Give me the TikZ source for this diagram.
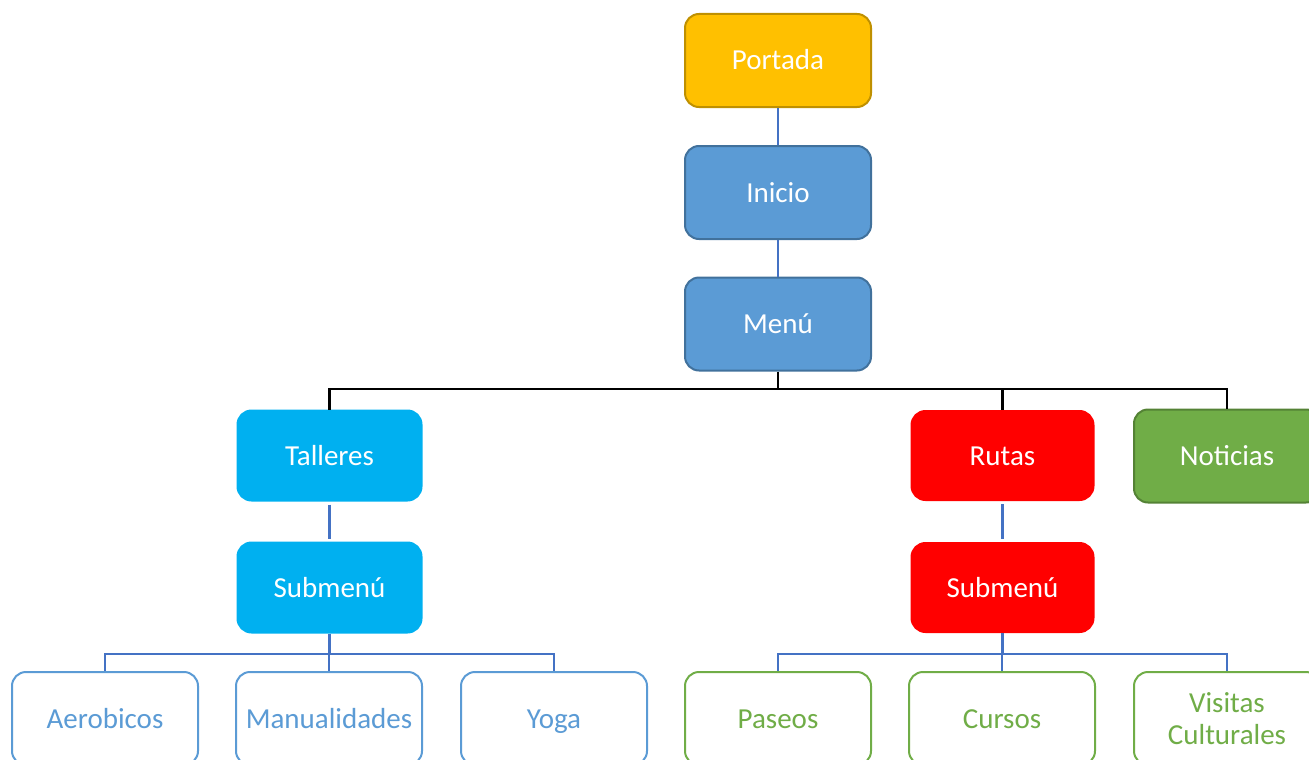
\documentclass[tikz,border=0pt]{standalone}
\usepackage{fontspec}
\setmainfont{Carlito}
\definecolor{gold}{HTML}{FFC000}
\definecolor{goldline}{HTML}{BF9000}
\definecolor{mblue}{HTML}{5B9BD5}
\definecolor{mblueline}{HTML}{41719C}
\definecolor{cyanf}{HTML}{00B0F0}
\definecolor{redf}{HTML}{FF0000}
\definecolor{greenf}{HTML}{70AD47}
\definecolor{greenline}{HTML}{548235}
\definecolor{conn}{HTML}{4472C4}
\tikzset{
  box/.style={rounded corners=14pt, minimum width=186pt, minimum height=93pt, line width=2pt,
    font=\fontsize{29}{32}\selectfont, text=white, align=center, inner sep=2pt},
  oneline/.style={text height=22pt, text depth=3pt},
  goldbox/.style={box, oneline, fill=gold, draw=goldline},
  bluebox/.style={box, oneline, fill=mblue, draw=mblueline},
  cyanbox/.style={box, oneline, fill=cyanf, draw=cyanf, minimum width=184pt, minimum height=90pt},
  redbox/.style={box, oneline, fill=redf, draw=redf, minimum width=182pt, minimum height=89pt},
  greenbox/.style={box, oneline, fill=greenf, draw=greenline},
  bleaf/.style={box, oneline, fill=white, draw=mblue, text=mblue},
  gleaf/.style={box, fill=white, draw=greenf, text=greenf},
  bconn/.style={draw=conn, line width=2.5pt},
  kconn/.style={draw=black, line width=2.5pt},
}
\begin{document}
\begin{tikzpicture}[x=1pt, y=-1pt]
\useasboundingbox (0,0) rectangle (1309,760);
\clip (0,0) rectangle (1309,760);
\node[goldbox] (portada) at (778,60.5) {Portada};
\node[bluebox] (inicio) at (778,192.5) {Inicio};
\node[bluebox] (menu) at (778,324) {Menú};
\node[cyanbox] (talleres) at (329.5,455.5) {Talleres};
\node[cyanbox] (subl) at (329.5,587.5) {Submenú};
\node[redbox] (rutas) at (1002.5,455.5) {Rutas};
\node[redbox] (subr) at (1002.5,587.5) {Submenú};
\node[greenbox] (noticias) at (1227,456) {Noticias};
\node[bleaf] (aero) at (105,718.5) {Aerobicos};
\node[bleaf] (manu) at (329,718.5) {Manualidades};
\node[bleaf] (yoga) at (554,718.5) {Yoga};
\node[gleaf, oneline] (paseos) at (778,718.5) {Paseos};
\node[gleaf, oneline] (cursos) at (1002,718.5) {Cursos};
\node[gleaf] (visitas) at (1227,718.5) {Visitas\\Culturales};
\coordinate (b1) at (778,389);
\coordinate (b2) at (329.5,654);
\coordinate (b3) at (1002.5,654);
\draw[bconn] (portada) -- (inicio);
\draw[bconn] (inicio) -- (menu);
\draw[kconn] (menu.south) -- (b1) -| (talleres.north);
\draw[kconn] (b1) -| (rutas.north);
\draw[kconn] (b1) -| (noticias.north);
\draw[bconn, shorten <=3pt, shorten >=3pt] (talleres) -- (subl);
\draw[bconn, shorten <=3pt, shorten >=3pt] (rutas) -- (subr);
\draw[bconn] (subl.south) -- (b2) -| (aero.north);
\draw[bconn] (b2) -| (manu.north);
\draw[bconn] (b2) -| (yoga.north);
\draw[bconn] (subr.south) -- (b3) -| (paseos.north);
\draw[bconn] (b3) -| (cursos.north);
\draw[bconn] (b3) -| (visitas.north);
\end{tikzpicture}
\end{document}
